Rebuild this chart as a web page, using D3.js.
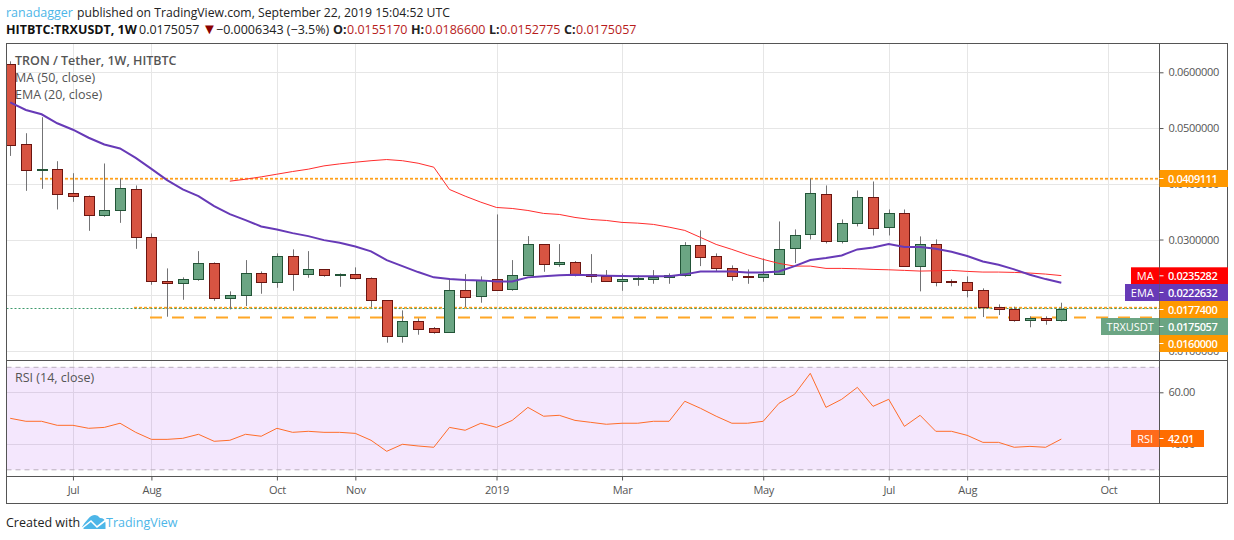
<!DOCTYPE html>
<html>
<head>
<meta charset="utf-8">
<script src="https://cdn.jsdelivr.net/npm/d3@7"></script>
<style>
  html, body { margin: 0; padding: 0; background: #fff; overflow: hidden; }
  text { font-family: "Open Sans", sans-serif; }
</style>
</head>
<body>
<div id="chart"></div>
<script>
// weekly candles
const opens = [0.06156,0.04722,0.04256,0.04274,0.03826,0.03772,0.03432,0.03521,0.03898,0.03038,0.02249,0.02213,0.02285,0.02572,0.01944,0.01998,0.02392,0.02231,0.02697,0.02375,0.02464,0.02357,0.02375,0.02303,0.01909,0.01264,0.01532,0.01407,0.01335,0.02088,0.01980,0.02285,0.02106,0.02357,0.02912,0.02554,0.02590,0.02375,0.02339,0.02249,0.02285,0.02285,0.02321,0.02357,0.02894,0.02697,0.02482,0.02339,0.02321,0.02375,0.02841,0.03091,0.03808,0.02966,0.03289,0.03754,0.03217,0.03468,0.02518,0.02912,0.02249,0.02231,0.02088,0.01783,0.01747,0.01550,0.01586,0.01552];
const closes = [0.04701,0.04256,0.04274,0.03826,0.03765,0.03432,0.03521,0.03916,0.03038,0.02249,0.02213,0.02285,0.02572,0.01944,0.01998,0.02392,0.02231,0.02697,0.02375,0.02464,0.02357,0.02375,0.02303,0.01909,0.01264,0.01532,0.01389,0.01335,0.02088,0.01962,0.02267,0.02088,0.02357,0.02912,0.02554,0.02590,0.02375,0.02339,0.02249,0.02285,0.02303,0.02321,0.02357,0.02894,0.02679,0.02482,0.02339,0.02321,0.02375,0.02823,0.03073,0.03826,0.02966,0.03289,0.03754,0.03199,0.03468,0.02518,0.02912,0.02231,0.02231,0.02088,0.01783,0.01747,0.01550,0.01586,0.01550,0.01751];
const highs = [0.06197,0.04907,0.05194,0.04405,0.04190,0.03790,0.04364,0.04095,0.03970,0.03109,0.02482,0.02321,0.02792,0.02590,0.02070,0.02631,0.02428,0.02751,0.02823,0.02792,0.02470,0.02392,0.02500,0.02321,0.01914,0.01729,0.01586,0.01430,0.02303,0.02380,0.02339,0.03450,0.02631,0.03061,0.02912,0.02918,0.02613,0.02738,0.02452,0.02392,0.02357,0.02452,0.02392,0.02953,0.03163,0.02751,0.02536,0.02464,0.02661,0.03324,0.03181,0.04095,0.03970,0.03360,0.03880,0.04041,0.03539,0.03539,0.03056,0.03002,0.02285,0.02339,0.02124,0.01837,0.01794,0.01622,0.01622,0.01866];
const lows = [0.04500,0.03873,0.03909,0.03539,0.03676,0.03156,0.03407,0.03299,0.02833,0.02188,0.01615,0.01919,0.02260,0.01901,0.01747,0.01807,0.02027,0.02134,0.02081,0.02314,0.02332,0.02152,0.02278,0.01783,0.01149,0.01149,0.01292,0.01310,0.01335,0.01789,0.01866,0.02088,0.02081,0.02357,0.02421,0.02511,0.02339,0.02224,0.02249,0.02081,0.02170,0.02206,0.02206,0.02332,0.02523,0.02421,0.02260,0.02206,0.02242,0.02375,0.02577,0.03002,0.02930,0.02930,0.03235,0.03073,0.03073,0.02518,0.02070,0.02160,0.02160,0.01962,0.01609,0.01645,0.01525,0.01425,0.01471,0.01528];

// EMA (20) covers every candle, MA (50) starts at candle 14
const ema = [0.05462,0.05324,0.05247,0.05086,0.04970,0.04826,0.04704,0.04633,0.04464,0.04267,0.04065,0.03898,0.03778,0.03599,0.03455,0.03348,0.03235,0.03181,0.03115,0.03061,0.02989,0.02941,0.02876,0.02787,0.02631,0.02523,0.02416,0.02321,0.02290,0.02272,0.02267,0.02249,0.02249,0.02321,0.02339,0.02357,0.02367,0.02357,0.02349,0.02344,0.02339,0.02339,0.02339,0.02375,0.02428,0.02428,0.02428,0.02410,0.02410,0.02428,0.02523,0.02631,0.02667,0.02715,0.02823,0.02858,0.02918,0.02864,0.02864,0.02833,0.02780,0.02703,0.02607,0.02547,0.02464,0.02367,0.02290,0.02226];
const maStart = 14;
const ma = [0.04047,0.04082,0.04124,0.04172,0.04220,0.04262,0.04321,0.04357,0.04387,0.04414,0.04435,0.04414,0.04369,0.04298,0.03898,0.03778,0.03670,0.03575,0.03557,0.03521,0.03468,0.03450,0.03396,0.03360,0.03342,0.03307,0.03294,0.03271,0.03222,0.03163,0.03038,0.02912,0.02823,0.02726,0.02643,0.02572,0.02523,0.02523,0.02482,0.02482,0.02475,0.02464,0.02457,0.02446,0.02434,0.02439,0.02446,0.02428,0.02416,0.02416,0.02410,0.02398,0.02380,0.02353];

const rsi = [50.0,48.85,48.85,47.3,47.3,46.15,46.5,48.1,44.6,41.9,41.9,42.3,43.85,41.15,41.55,43.85,43.1,46.15,44.6,45,44.6,44.6,44.2,41.55,37.3,40,39.35,38.85,46.5,45.4,48.1,46.5,49.2,54.2,50.8,51.15,49.2,48.45,47.7,48.1,48.1,48.85,48.85,56.55,53.85,50.8,48.1,48.1,48.85,55.75,59.25,67.3,54.2,57.3,61.9,54.6,57.3,46.9,51.15,45,45,43.45,40.75,40.75,38.85,39.2,38.85,42.01];

const priceTicks = [0.06, 0.05, 0.04, 0.03, 0.02, 0.01];
const rsiTicks = [60, 40];
const timeTicks = [4, 9, 17, 22, 31, 39, 48, 56, 61, 70];
const timeLabels = ["Jul", "Aug", "Oct", "Nov", "2019", "Mar", "May", "Jul", "Aug", "Oct"];
const resistance = 0.0409111, support1 = 0.01774, support2 = 0.016, lastPrice = 0.0175057;

const width = 1234, height = 540;
const left = 6.5, right = 1159.5, outerRight = 1227.5;
const paneTop = 43.5, paneBottom = 360.5, rsiBottom = 476.5, bottom = 503.5;

const svg = d3.select("#chart").append("svg")
  .attr("width", width)
  .attr("height", height)
  .style("display", "block");

const x = d3.scaleLinear().domain([0, 67]).range([10.2, 1061.3]);
const y = d3.scaleLinear().domain([0.06, 0.01]).range([72.3, 351]);
const yRsi = d3.scaleLinear().domain([60, 40]).range([392.3, 444.3]);

const gridColor = "#e6e6e6", frameColor = "#555", textColor = "#555";

svg.append("defs").append("clipPath").attr("id", "pane")
  .append("rect").attr("x", left).attr("y", paneTop).attr("width", right - left).attr("height", paneBottom - paneTop);

// grid
const grid = svg.append("g").attr("stroke", gridColor).attr("stroke-width", 1);
grid.selectAll(".v").data(timeTicks).enter().append("line")
  .attr("x1", d => Math.round(x(d)) + 0.5).attr("x2", d => Math.round(x(d)) + 0.5)
  .attr("y1", paneTop).attr("y2", rsiBottom);
grid.selectAll(".h").data(priceTicks).enter().append("line")
  .attr("x1", left).attr("x2", right)
  .attr("y1", d => Math.round(y(d)) + 0.5).attr("y2", d => Math.round(y(d)) + 0.5);
grid.selectAll(".r").data(rsiTicks).enter().append("line")
  .attr("x1", left).attr("x2", right)
  .attr("y1", d => Math.round(yRsi(d)) + 0.5).attr("y2", d => Math.round(yRsi(d)) + 0.5);

// horizontal levels, halo then dashes
function level(value, x1, dash, w) {
  svg.append("line").attr("x1", x1).attr("x2", right)
    .attr("y1", y(value)).attr("y2", y(value))
    .attr("stroke", "#ffe0b2").attr("stroke-width", w + 1.5).attr("stroke-dasharray", dash).attr("opacity", 0.7);
  svg.append("line").attr("x1", x1).attr("x2", right)
    .attr("y1", y(value)).attr("y2", y(value))
    .attr("stroke", "#ff9f1a").attr("stroke-width", w).attr("stroke-dasharray", dash);
}
level(resistance, 40, "3 2", 1.5);
level(support1, 134, "3 2", 1.5);
svg.append("line").attr("x1", 150).attr("x2", 1152)
  .attr("y1", y(support2)).attr("y2", y(support2))
  .attr("stroke", "#ffa726").attr("stroke-width", 2).attr("stroke-dasharray", "12 10");
svg.append("line").attr("x1", left).attr("x2", right)
  .attr("y1", Math.floor(y(lastPrice)) - 0.5).attr("y2", Math.floor(y(lastPrice)) - 0.5)
  .attr("stroke", "#3f9a6d").attr("stroke-width", 1).attr("stroke-dasharray", "2 2");

// candles
const candles = svg.append("g").attr("clip-path", "url(#pane)")
  .selectAll("g").data(opens).enter().append("g");
candles.append("line")
  .attr("x1", (d, i) => Math.round(x(i)) + 0.5).attr("x2", (d, i) => Math.round(x(i)) + 0.5)
  .attr("y1", (d, i) => y(highs[i])).attr("y2", (d, i) => y(lows[i]))
  .attr("stroke", "#737375").attr("stroke-width", 1);
candles.append("rect")
  .attr("x", (d, i) => Math.round(x(i)) - 4.5)
  .attr("width", 10)
  .attr("y", (d, i) => Math.round(y(Math.max(d, closes[i]))) + 0.5)
  .attr("height", (d, i) => Math.max(Math.round(Math.abs(y(d) - y(closes[i]))), 1))
  .attr("fill", (d, i) => closes[i] >= d ? "#6ba583" : "#d75442")
  .attr("stroke", (d, i) => closes[i] >= d ? "#225437" : "#6b1510")
  .attr("stroke-width", 1);

// moving averages
const priceLine = d3.line().x(d => x(d[0])).y(d => y(d[1]));
svg.append("path").datum(ma.map((d, i) => [i + maStart, d]))
  .attr("d", priceLine).attr("fill", "none").attr("stroke", "#ff2d2d").attr("stroke-width", 1);
svg.append("path").datum(ema.map((d, i) => [i, d]))
  .attr("clip-path", "url(#pane)")
  .attr("d", priceLine).attr("fill", "none").attr("stroke", "#673ab7").attr("stroke-width", 2);

// RSI pane
svg.append("rect").attr("x", left).attr("width", right - left)
  .attr("y", yRsi(70) + 1).attr("height", yRsi(30) - yRsi(70) - 1.5)
  .attr("fill", "#9c27f0").attr("opacity", 0.11);
[yRsi(70) + 1, yRsi(30) - 0.5].forEach(p => {
  svg.append("line").attr("x1", left).attr("x2", right).attr("y1", p).attr("y2", p)
    .attr("stroke", "#b9aebd").attr("stroke-width", 1).attr("stroke-dasharray", "5 4");
});
svg.append("path").datum(rsi)
  .attr("d", d3.line().x((d, i) => x(i)).y(d => yRsi(d)))
  .attr("fill", "none").attr("stroke", "#ff6d2a").attr("stroke-width", 1);

// axes
const priceAxis = d3.axisRight(y).tickValues(priceTicks).tickFormat(d3.format(".7f")).tickSize(4).tickPadding(5);
const rsiAxis = d3.axisRight(yRsi).tickValues(rsiTicks).tickFormat(d3.format(".2f")).tickSize(4).tickPadding(5);
const timeAxis = d3.axisBottom(x).tickValues(timeTicks).tickFormat((d, i) => timeLabels[i]).tickSize(4).tickPadding(6);
[
  svg.append("g").attr("transform", `translate(${right},0)`).call(priceAxis),
  svg.append("g").attr("transform", `translate(${right},0)`).call(rsiAxis),
  svg.append("g").attr("transform", `translate(0,${rsiBottom})`).call(timeAxis)
].forEach(a => {
  a.select(".domain").remove();
  a.selectAll("line").attr("stroke", frameColor);
  a.selectAll("text").attr("fill", textColor).attr("font-size", 11)
    .attr("letter-spacing", -0.3).style("font-family", '"Open Sans", sans-serif');
});

// frame
const frame = svg.append("g").attr("stroke", frameColor).attr("stroke-width", 1).attr("fill", "none");
frame.append("rect").attr("x", left).attr("y", paneTop).attr("width", outerRight - left).attr("height", bottom - paneTop);
frame.append("line").attr("x1", left).attr("x2", outerRight).attr("y1", paneBottom).attr("y2", paneBottom);
frame.append("line").attr("x1", left).attr("x2", outerRight).attr("y1", rsiBottom).attr("y2", rsiBottom);
frame.append("line").attr("x1", right).attr("x2", right).attr("y1", paneTop).attr("y2", bottom);

// price labels on the right, stacked the way the picture stacks them
function tag(name, value, yTop, h, color, nameLeft, valueRight, nameColor) {
  if (name) {
    svg.append("rect").attr("x", nameLeft).attr("y", yTop).attr("width", right - 0.5 - nameLeft).attr("height", h).attr("fill", nameColor || color);
    svg.append("text").attr("x", (nameLeft + right) / 2).attr("y", yTop + h / 2 + 4)
      .attr("text-anchor", "middle").attr("fill", "#fff").attr("font-size", 11).text(name);
  }
  svg.append("rect").attr("x", right).attr("y", yTop).attr("width", valueRight - right).attr("height", h).attr("fill", color);
  svg.append("line").attr("x1", right).attr("x2", right + 4).attr("y1", yTop + h / 2).attr("y2", yTop + h / 2).attr("stroke", "#fff");
  svg.append("text").attr("x", right + 8.5).attr("y", yTop + h / 2 + 4)
    .attr("fill", "#fff").attr("font-size", 11).attr("font-weight", 600).attr("letter-spacing", -0.45).text(value);
}
tag(null, "0.0409111", 170, 17, "#ff9800", 0, 1228);
tag("MA", "0.0235282", 267.3, 17, "#ff0000", 1131, 1228);
tag("EMA", "0.0222632", 284, 17, "#673ab7", 1125, 1228);
tag(null, "0.0177400", 301, 17, "#ff9800", 0, 1228);
tag("TRXUSDT", "0.0175057", 318, 17, "#6ba583", 1101, 1228);
tag(null, "0.0160000", 335, 17, "#ff9800", 0, 1228);
tag("RSI", "42.01", 430, 17, "#ff6d00", 1131, 1204, "#ff6a1a");

// pane titles
const titles = svg.append("g").attr("fill", textColor).attr("font-size", 12.5);
titles.append("text").attr("x", 15).attr("y", 65).attr("font-weight", 600).text("TRON / Tether, 1W, HITBTC");
titles.append("text").attr("x", 15).attr("y", 82).text("MA (50, close)");
titles.append("text").attr("x", 15).attr("y", 99).text("EMA (20, close)");
titles.append("text").attr("x", 15).attr("y", 382).text("RSI (14, close)");

// header
const line1 = svg.append("text").attr("x", 6).attr("y", 17).attr("font-size", 12.2).attr("fill", "#222");
line1.append("tspan").attr("fill", "#4db6e8").attr("font-size", 12.5).text("ranadagger");
line1.append("tspan").attr("x", 77).text("published on TradingView.com, September 22, 2019 15:04:52 UTC");

const red = "#b71c1c";
const line2 = svg.append("text").attr("y", 34).attr("font-size", 12.5).attr("fill", "#222");
[
  ["HITBTC:TRXUSDT, 1W", 6, 700, "#111"], ["0.0175057", 139, 400, "#222"], ["▼", 202, 400, "#8b0000"],
  ["−0.0006343 (−3.5%)", 216, 400, "#222"], ["O:", 333, 700, "#222"], ["0.0155170", 347, 400, red],
  ["H:", 411, 700, "#222"], ["0.0186600", 425, 400, red], ["L:", 489, 700, "#222"], ["0.0152775", 500, 400, red],
  ["C:", 564, 700, "#222"], ["0.0175057", 576, 400, red]
].forEach(p => {
  line2.append("tspan").attr("x", p[1]).attr("font-weight", p[2]).attr("fill", p[3])
    .attr("font-size", p[0] === "▼" ? 15 : null).text(p[0]);
});

// footer
svg.append("text").attr("x", 6).attr("y", 527).attr("font-size", 12.5).attr("fill", "#222").text("Created with");
svg.append("path")
  .attr("d", "M82 527 Q85 522 88 519 Q91 515 95 515 Q98 515 100 518 Q105 518 105.5 523 L105.5 529 L84 529 Z")
  .attr("fill", "#4db6e8");
svg.append("path")
  .attr("d", "M81 529 L91 521 L97 527 L106 520")
  .attr("fill", "none").attr("stroke", "#fff").attr("stroke-width", 1.6);
svg.append("text").attr("x", 106).attr("y", 527).attr("font-size", 12.5).attr("fill", "#4db6e8").text("TradingView");
</script>
</body>
</html>
